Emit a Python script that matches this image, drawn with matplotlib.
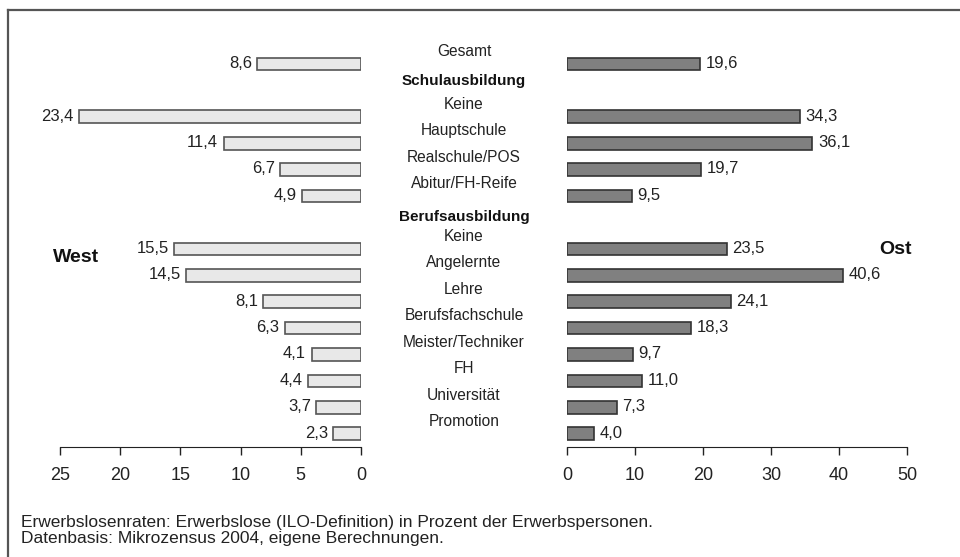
import numpy as np
import matplotlib.pyplot as plt

plt.rcParams['font.family'] = ['Liberation Sans', 'DejaVu Sans']

# Zeilen: Kategorien und Zwischenüberschriften (ohne Balken)
labels = ["Gesamt", "Schulausbildung", "Keine", "Hauptschule", "Realschule/POS",
          "Abitur/FH-Reife", "Berufsausbildung", "Keine", "Angelernte", "Lehre",
          "Berufsfachschule", "Meister/Techniker", "FH", "Universität", "Promotion"]
is_header = [False, True, False, False, False, False, True, False, False, False,
             False, False, False, False, False]
west = [8.6, None, 23.4, 11.4, 6.7, 4.9, None, 15.5, 14.5, 8.1, 6.3, 4.1, 4.4, 3.7, 2.3]
ost = [19.6, None, 34.3, 36.1, 19.7, 9.5, None, 23.5, 40.6, 24.1, 18.3, 9.7, 11.0, 7.3, 4.0]

west_ticks = [25, 20, 15, 10, 5, 0]
ost_ticks = [0, 10, 20, 30, 40, 50]

def fmt(v):
    return f"{v:.1f}".replace(".", ",")

fig = plt.figure(figsize=(9.6, 5.57), dpi=100)

W, H = 960, 557
def box(x0, x1, y_top, y_bot):
    return [x0 / W, 1 - y_bot / H, (x1 - x0) / W, (y_bot - y_top) / H]

ax_w = fig.add_axes(box(60, 361, 37.6, 447))
ax_o = fig.add_axes(box(567, 907, 37.6, 447))

txt_col = "#222222"

for ax, vals, fc, ec, lim, ticks in [
        (ax_w, west, "#e8e8e8", "#555555", (25, 0), west_ticks),
        (ax_o, ost, "#808080", "#333333", (0, 50), ost_ticks)]:
    idx = [i for i, v in enumerate(vals) if v is not None]
    v = [vals[i] for i in idx]
    ax.barh(idx, v, height=0.48, color=fc, edgecolor=ec, linewidth=1.2)
    ax.set_xlim(*lim)
    ax.set_ylim(14.5, -1)
    ax.set_yticks([])
    ax.set_xticks(ticks)
    ax.set_xticklabels([str(t) for t in ticks], fontsize=13, color=txt_col)
    ax.tick_params(axis="x", direction="out", length=6, width=1, pad=8.5, color="#222222")
    for s in ["top", "left", "right"]:
        ax.spines[s].set_visible(False)
    ax.spines["bottom"].set_color("#222222")
    ax.patch.set_alpha(0)
    for i, val in zip(idx, v):
        if ax is ax_w:
            ax.annotate(fmt(val), (val, i), xytext=(-4, 0.5), textcoords="offset points",
                        ha="right", va="center", fontsize=12, color=txt_col)
        else:
            ax.annotate(fmt(val), (val, i), xytext=(4, 0.5), textcoords="offset points",
                        ha="left", va="center", fontsize=12, color=txt_col)

# Kategorienamen in der Mitte
for i, (lab, hd) in enumerate(zip(labels, is_header)):
    y_px = 64 + i * 26.43
    if hd:
        y_px -= 9 if i == 1 else 6
        fig.text(464 / W, 1 - y_px / H, lab, ha="center", va="center",
                 fontsize=11, fontweight="bold", color="#111111")
    else:
        y_px -= 12.5
        fig.text(464 / W, 1 - y_px / H, lab, ha="center", va="center",
                 fontsize=11.2, color=txt_col)

fig.text(76 / W, 1 - 257 / H, "West", ha="center", va="center",
         fontsize=14, fontweight="bold", color="#111111")
fig.text(895 / W, 1 - 249 / H, "Ost", ha="center", va="center",
         fontsize=14, fontweight="bold", color="#111111")

fig.text(21 / W, 1 - 522 / H,
         "Erwerbslosenraten: Erwerbslose (ILO-Definition) in Prozent der Erwerbspersonen.",
         ha="left", va="center", fontsize=12.5, color=txt_col)
fig.text(21 / W, 1 - 539 / H, "Datenbasis: Mikrozensus 2004, eigene Berechnungen.",
         ha="left", va="center", fontsize=12.5, color=txt_col)

# Rahmen oben und links
fig.add_artist(plt.Line2D([8 / W, 1], [1 - 9.5 / H, 1 - 9.5 / H],
                          transform=fig.transFigure, color="#555555", lw=1.6))
fig.add_artist(plt.Line2D([8 / W, 8 / W], [0, 1 - 9.5 / H],
                          transform=fig.transFigure, color="#555555", lw=1.6))

fig.savefig("out.png", dpi=100)
